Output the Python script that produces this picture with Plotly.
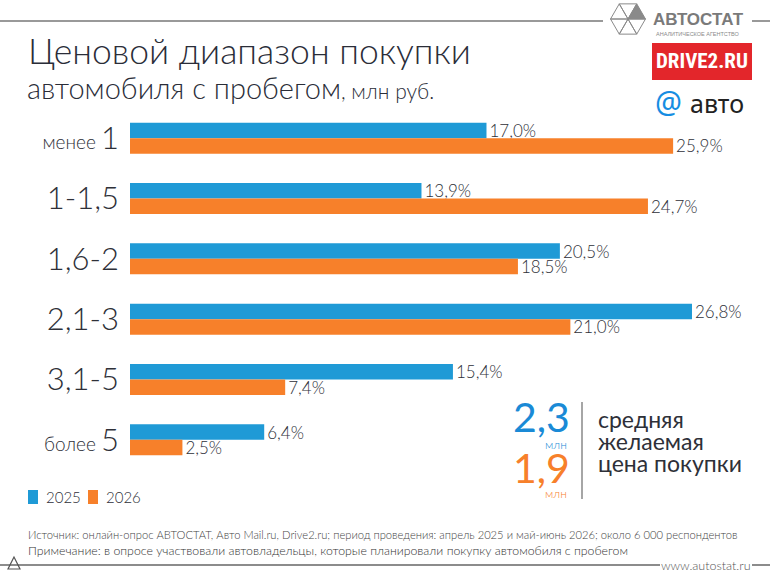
import plotly.graph_objects as go
import math

categories = ["менее 1", "1-1,5", "1,6-2", "2,1-3", "3,1-5", "более 5"]
tick_labels = [
    "<span style='font-size:19px'>менее </span>1",
    "1-1,5",
    "1,6-2",
    "2,1-3",
    "3,1-5",
    "<span style='font-size:19px'>более </span>5",
]
values_2025 = [17.0, 13.9, 20.5, 26.8, 15.4, 6.4]
values_2026 = [25.9, 24.7, 18.5, 21.0, 7.4, 2.5]
series_names = ["2025", "2026"]
avg_2025 = "2,3"
avg_2026 = "1,9"

BLUE = "#1f9ad6"
ORANGE = "#f7802a"
TXT = "#2e3038"
FONT = "Lato, 'Noto Sans', sans-serif"
LW = 300

W, H = 770, 578
L, R, T, B = 130, 0, 108, 108
PW, PH = W - L - R, H - T - B


def px(x):
    return (x - L) / PW


def py(y):
    return (H - B - y) / PH


def fmt(v):
    return f"{v:.1f}".replace(".", ",") + "%"


fig = go.Figure()
for name, vals, col in [(series_names[0], values_2025, BLUE), (series_names[1], values_2026, ORANGE)]:
    fig.add_trace(go.Bar(
        y=categories, x=vals, orientation="h", name=name,
        marker=dict(color=col, line=dict(width=0)),
        text=[fmt(v) for v in vals], textposition="outside", constraintext="none",
        textfont=dict(size=17, color=TXT, family=FONT, weight=LW),
        cliponaxis=False, showlegend=False,
    ))

fig.update_layout(
    width=W, height=H,
    margin=dict(l=L, r=R, t=T, b=B),
    paper_bgcolor="white", plot_bgcolor="white",
    barmode="group", bargap=0.485, bargroupgap=0,
    font=dict(family=FONT, color=TXT, weight=LW),
    xaxis=dict(range=[0, 30.52], visible=False, fixedrange=True),
    yaxis=dict(categoryorder="array", categoryarray=categories, autorange="reversed",
               tickmode="array", tickvals=categories, ticktext=tick_labels,
               tickfont=dict(size=31, color=TXT, family=FONT, weight=LW), ticks="", showline=False,
               showgrid=False, ticklabelstandoff=10),
)

ann = []


def A(x, y, text, size, color=TXT, xanchor="left", yanchor="middle", family=FONT, weight=LW, **kw):
    ann.append(dict(x=px(x), y=py(y), xref="paper", yref="paper", text=text, showarrow=False,
                    xanchor=xanchor, yanchor=yanchor,
                    font=dict(size=size, color=color, family=family, weight=weight), **kw))


# Title
A(26, 50, "Ценовой диапазон покупки", 35.5, color="#2a2d38")
A(25, 88, "автомобиля с пробегом<span style='font-size:21px'>, млн руб.</span>", 29, color="#2a2d38")

# Legend (manual)
shapes = []
for i, (name, col) in enumerate([(series_names[0], BLUE), (series_names[1], ORANGE)]):
    x0 = 28 + i * 60
    shapes.append(dict(type="rect", xref="paper", yref="paper", x0=px(x0), x1=px(x0 + 10),
                       y0=py(504), y1=py(490), fillcolor=col, line=dict(width=0)))
    A(x0 + 16, 497, name, 15)

# Average price block
A(572, 416, avg_2025, 41, color="#1a8ad6", xanchor="right", weight=400)
A(569, 444, "млн", 12, color="#1a8ad6", xanchor="right")
A(572, 467, avg_2026, 41, color=ORANGE, xanchor="right", weight=400)
A(569, 493, "млн", 12, color=ORANGE, xanchor="right")
A(596, 419, "средняя", 23, weight=400)
A(596, 441, "желаемая", 23, weight=400)
A(596, 463, "цена покупки", 23, weight=400)

# Footer
A(26, 534, "Источник: онлайн-опрос АВТОСТАТ, Авто Mail.ru, Drive2.ru; период проведения: апрель 2025 и май-июнь 2026; около 6 000 респондентов", 11.2, color="#444")
A(26, 550, "Примечание: в опросе участвовали автовладельцы, которые планировали покупку автомобиля с пробегом", 12.3, color="#333")
A(706, 565, "www.autostat.ru", 12.5, color="#555", xanchor="center")

# Logos
A(698, 19, "АВТОСТАТ", 17, color="#7a7a7a", xanchor="center", family="'Liberation Sans', Arial, sans-serif", weight=700)
A(698, 34, "АНАЛИТИЧЕСКОЕ АГЕНТСТВО", 5.5, color="#8a8a8a", xanchor="center", family="'Liberation Sans', Arial, sans-serif", weight=400)
A(702, 61, "DRIVE2.RU", 21, color="white", xanchor="center", family="'Liberation Sans Narrow', 'Roboto Condensed', 'Liberation Sans', sans-serif", weight=700)
A(668, 101, "@", 30, color="#168de2", xanchor="center", family="'Noto Sans', sans-serif", weight=400)
A(717, 103, "авто", 25, color="#222", xanchor="center", family="'Noto Sans', sans-serif", weight=400)

fig.update_layout(annotations=ann)


def line(x0, y0, x1, y1, color="#777", width=1.5):
    shapes.append(dict(type="line", xref="paper", yref="paper", x0=px(x0), y0=py(y0), x1=px(x1), y1=py(y1),
                       line=dict(color=color, width=width)))


def path(points, fill=None, color="#8a8a8a", width=1):
    d = "M " + " L ".join(f"{px(x)} {py(y)}" for x, y in points) + " Z"
    shapes.append(dict(type="path", xref="paper", yref="paper", path=d,
                       fillcolor=fill if fill else "rgba(0,0,0,0)", line=dict(color=color, width=width)))


line(0, 21, 603, 21)
line(752, 21, 770, 21)
line(0, 565, 660, 565, color="#666")
line(752, 565, 770, 565, color="#666")
path([(14, 557), (8, 569), (20, 569)], color="#555", width=1.2)
line(582, 402, 582, 499, color="#888", width=1.5)

# AVTOSTAT hexagon logo
cx, cy, r = 628, 19, 19
pts = [(cx + r * math.cos(math.radians(a)), cy - r * math.sin(math.radians(a))) for a in (0, 60, 120, 180, 240, 300)]
for i in range(6):
    p1, p2 = pts[i], pts[(i + 1) % 6]
    fill = "#8a8a8a" if i == 0 else None
    path([(cx, cy), (p1[0] * 0.92 + cx * 0.08, p1[1] * 0.92 + cy * 0.08), (p2[0] * 0.92 + cx * 0.08, p2[1] * 0.92 + cy * 0.08)],
         fill=fill, color="#8a8a8a", width=1)

# DRIVE2 box
shapes.append(dict(type="rect", xref="paper", yref="paper", x0=px(652), x1=px(752), y0=py(80), y1=py(43),
                   fillcolor="#e3262b", line=dict(width=0)))

fig.update_layout(shapes=shapes)

fig.write_html("out.html")
